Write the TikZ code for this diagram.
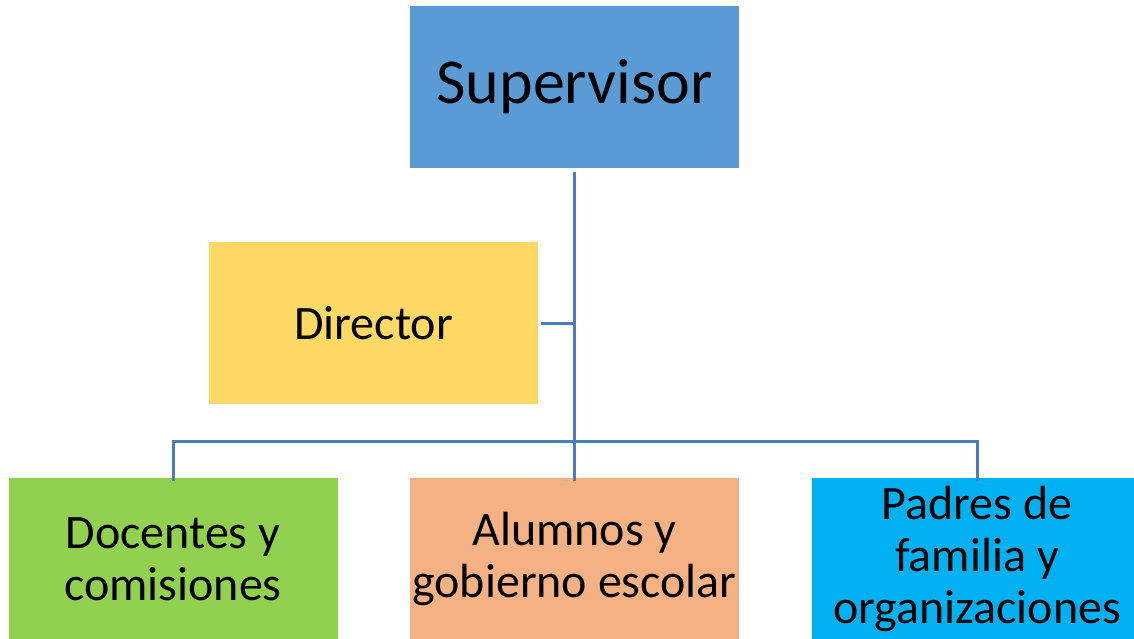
\documentclass[tikz,border=0pt]{standalone}
\usepackage{fontspec}
\setmainfont{Carlito}
\definecolor{supc}{HTML}{5B9BD5}
\definecolor{dirc}{HTML}{FFD966}
\definecolor{docc}{HTML}{92D050}
\definecolor{aluc}{HTML}{F4B183}
\definecolor{padc}{HTML}{00B0F0}
\definecolor{linec}{HTML}{4A7EBB}
\begin{document}
\begin{tikzpicture}[x=1pt,y=-1pt,
  box/.style={draw=none, minimum width=329pt, minimum height=162pt, inner sep=0pt, align=center, text=black},
  big/.style={font=\fontsize{64}{76}\selectfont},
  mid/.style={font=\fontsize{48}{52}\selectfont},
  conn/.style={draw=linec, line width=3pt}]
\useasboundingbox (0,0) rectangle (1134,638);
\clip (0,0) rectangle (1134,638);
\node[box, big, fill=supc] (sup) at (574.5,87) {Supervisor};
\node[box, mid, fill=dirc] (dir) at (373.5,323) {Director};
\node[box, mid, fill=docc] (doc) at (173,559) {Docentes y\\comisiones};
\node[box, mid, fill=aluc] (alu) at (574.5,559) {Alumnos y\\gobierno escolar};
\node[box, mid, fill=padc, minimum width=330pt] (pad) at (977,559) {Padres de\\familia y\\organizaciones};
\coordinate (j) at (574.5,441);
\coordinate (t) at (574.5,172);
\coordinate (dj) at (574.5,323);
\draw[conn] (t) -- (j);
\draw[conn] ([xshift=3pt]dir.east) -- (dj);
\draw[conn] ([yshift=-3pt]doc.north) |- (j) -| ([yshift=-3pt]pad.north);
\draw[conn] (j) -- ([yshift=-3pt]alu.north);
\end{tikzpicture}
\end{document}
